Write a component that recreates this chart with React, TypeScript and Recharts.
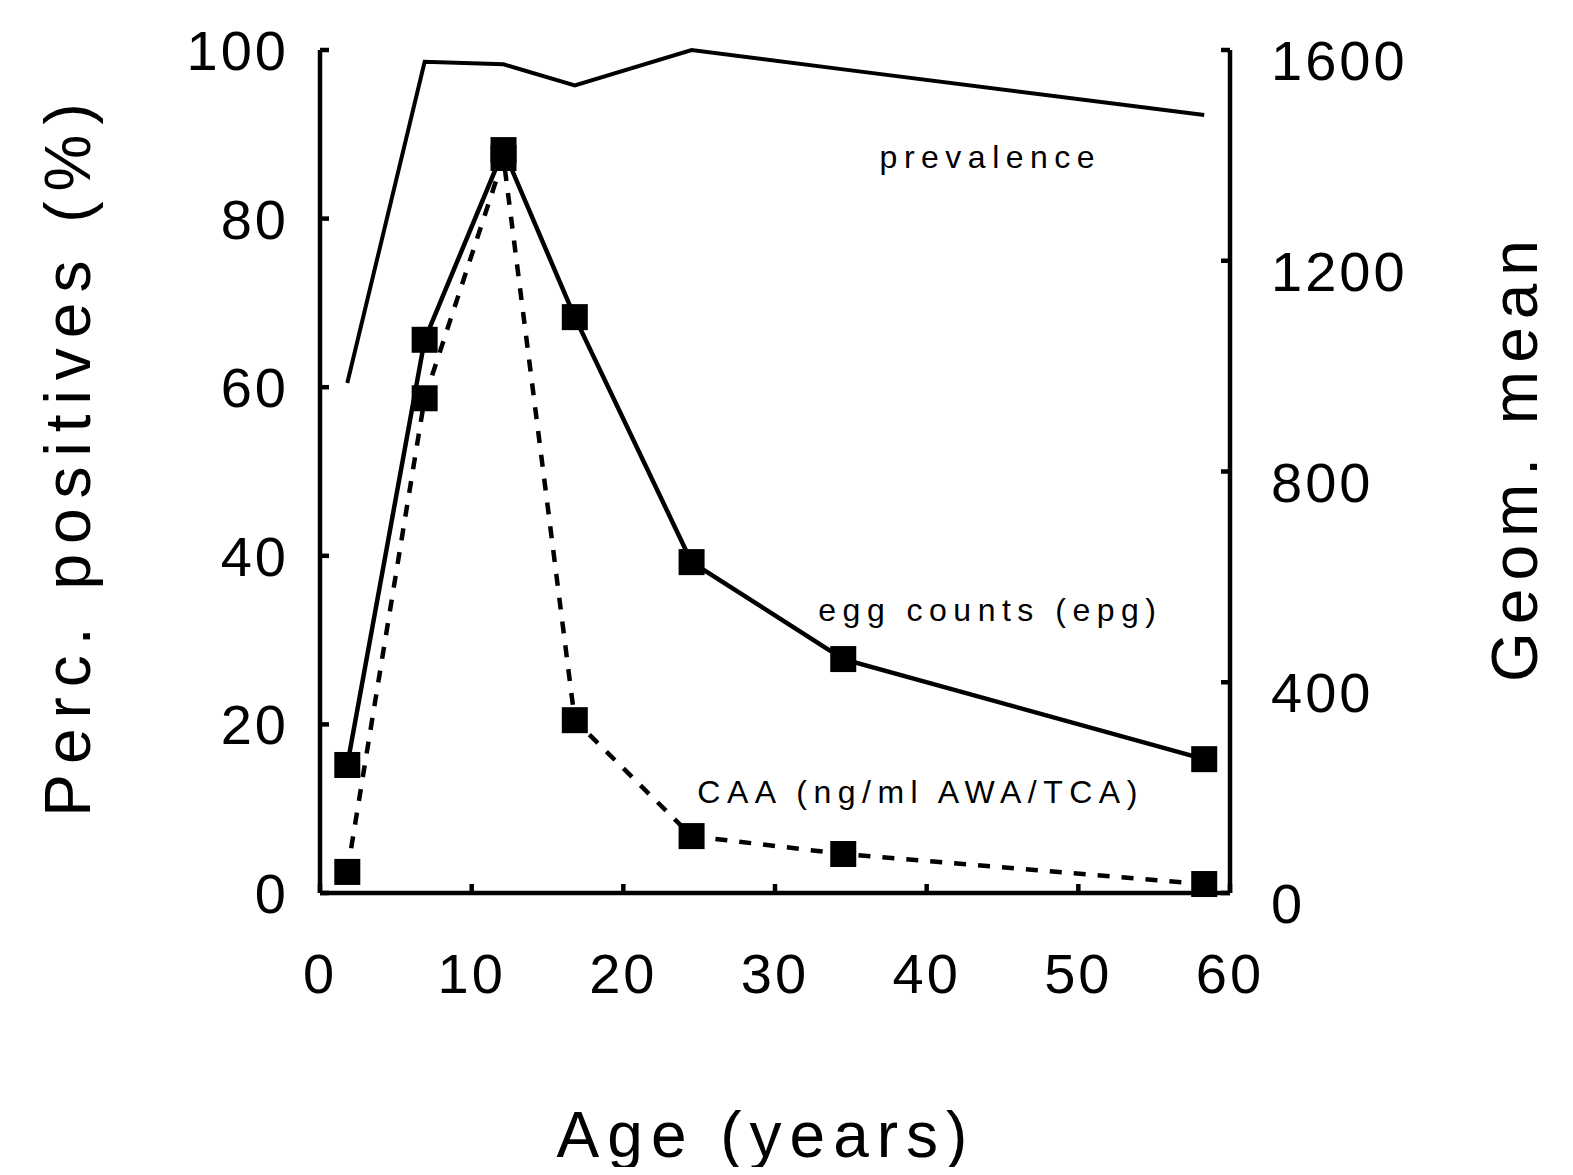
import React from 'react';
import { LineChart, Line, XAxis, YAxis, ReferenceDot } from 'recharts';

// age group midpoints (years)
const ages = [1.8, 6.9, 12.1, 16.8, 24.5, 34.5, 58.3];
// prevalence, % positives (left axis)
const prevalence = [60.5, 98.6, 98.3, 95.8, 100, 97.7, 92.3];
// geometric means (right axis)
const eggCounts = [243, 1050, 1410, 1093, 628, 444, 254];
const caa = [40, 939, 1395, 328, 108, 74, 17];

const xTicks = [0, 10, 20, 30, 40, 50, 60];
const leftTicks = [0, 20, 40, 60, 80, 100];
const rightTicks = [0, 400, 800, 1200, 1600];

const data = ages.map((age, i) => ({
  age,
  prevalence: prevalence[i],
  egg: eggCounts[i],
  caa: caa[i],
}));

const FONT = '"Liberation Sans", Arial, Helvetica, sans-serif';

const SquareDot = (props: any) => {
  const { cx, cy, index } = props;
  if (cx == null || cy == null) return null;
  return <rect key={index} x={cx - 13} y={cy - 13} width={26} height={26} fill="#000" />;
};

const tickText = (anchor: 'start' | 'end' | 'middle', dy: number) => (props: any) => {
  const { x, y, payload } = props;
  return (
    <text
      x={x}
      y={y + dy}
      textAnchor={anchor}
      fill="#000"
      fontSize={56}
      fontFamily={FONT}
      style={{ letterSpacing: 3 }}
    >
      {payload.value}
    </text>
  );
};

const annotation = (value: string) => ({
  value,
  position: 'center' as const,
  fill: '#000',
  fontSize: 32,
  fontFamily: FONT,
  style: { letterSpacing: 6.5 },
});

const titleStyle: React.CSSProperties = {
  position: 'absolute',
  fontFamily: FONT,
  fontSize: 64,
  letterSpacing: 8,
  color: '#000',
  whiteSpace: 'nowrap',
  lineHeight: 1,
};

export default function App() {
  return (
    <div style={{ position: 'relative', width: 1573, height: 1175, margin: -8, background: '#fff' }}>
      <LineChart
        width={1573}
        height={1175}
        data={data}
        margin={{ top: 50, right: 0, bottom: 0, left: 0 }}
      >
        <XAxis
          dataKey="age"
          type="number"
          domain={[0, 60]}
          ticks={xTicks}
          height={282}
          stroke="#000"
          strokeWidth={4.5}
          tickSize={-9}
          tickMargin={71}
          tick={tickText('middle', 38)}
        />
        <YAxis
          yAxisId="left"
          orientation="left"
          domain={[0, 100]}
          ticks={leftTicks}
          width={320}
          stroke="#000"
          strokeWidth={4.5}
          tickSize={-9}
          tickMargin={40}
          tick={tickText('end', 20)}
        />
        <YAxis
          yAxisId="right"
          orientation="right"
          domain={[0, 1600]}
          ticks={rightTicks}
          width={343}
          stroke="#000"
          strokeWidth={4.5}
          tickSize={-9}
          tickMargin={50}
          tick={tickText('start', 30)}
        />
        <Line
          yAxisId="left"
          dataKey="prevalence"
          type="linear"
          stroke="#000"
          strokeWidth={4}
          dot={false}
          isAnimationActive={false}
        />
        <Line
          yAxisId="right"
          dataKey="egg"
          type="linear"
          stroke="#000"
          strokeWidth={4.5}
          dot={<SquareDot />}
          activeDot={false}
          isAnimationActive={false}
        />
        <Line
          yAxisId="right"
          dataKey="caa"
          type="linear"
          stroke="#000"
          strokeWidth={4.5}
          strokeDasharray="12 12"
          dot={<SquareDot />}
          activeDot={false}
          isAnimationActive={false}
        />
        <ReferenceDot yAxisId="left" x={44.2} y={87.3} r={0} stroke="none" fill="none" label={annotation('prevalence')} />
        <ReferenceDot yAxisId="left" x={44.2} y={33.6} r={0} stroke="none" fill="none" label={annotation('egg counts (epg)')} />
        <ReferenceDot yAxisId="left" x={39.6} y={12.0} r={0} stroke="none" fill="none" label={annotation('CAA (ng/ml AWA/TCA)')} />
      </LineChart>
      <div style={{ ...titleStyle, letterSpacing: 10, left: 68, top: 455, transform: 'translate(-50%, -50%) rotate(-90deg)' }}>
        Perc. positives (%)
      </div>
      <div style={{ ...titleStyle, left: 1515, top: 457, transform: 'translate(-50%, -50%) rotate(-90deg)' }}>
        Geom. mean
      </div>
      <div style={{ ...titleStyle, left: 766, top: 1135, transform: 'translate(-50%, -50%)' }}>
        Age (years)
      </div>
    </div>
  );
}
